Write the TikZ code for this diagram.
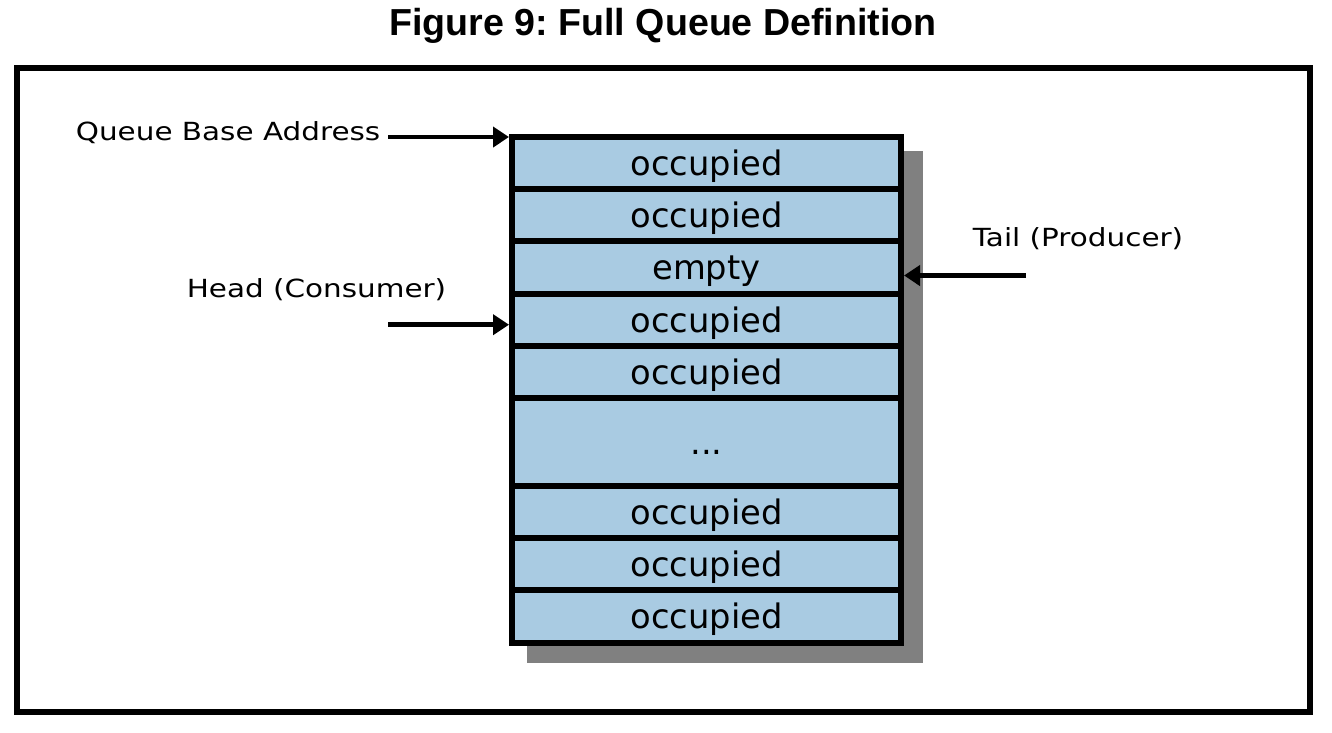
\documentclass[tikz,border=0pt]{standalone}
\usepackage{fontspec}
\usepackage{xcolor}
\usepackage{tikz}
\usetikzlibrary{positioning, arrows.meta}

\newfontfamily\cellfont{DejaVu Sans}
\newfontfamily\labelfont[FakeStretch=1.18]{DejaVu Sans}
\newfontfamily\titlefont{Liberation Sans}
\frenchspacing

\definecolor{slotblue}{RGB}{169,203,226}
\definecolor{shadowgray}{RGB}{128,128,128}

\tikzset{
  slot/.style={draw, line width=1.7pt, fill=slotblue, minimum width=38.9mm, minimum height=5.22mm,
    inner sep=0pt, outer sep=0pt, text height=9.3pt, text depth=2.3pt,
    font=\cellfont\fontsize{9.6}{11}\selectfont},
  ptrlabel/.style={inner sep=0pt, font=\labelfont\fontsize{7.1}{9}\selectfont},
  ptr/.style={-{Triangle[length=1.6mm, width=2mm]}, line width=1.4pt, shorten >=0.3mm}
}

\begin{document}
\begin{tikzpicture}[x=0.1mm, y=-0.1mm]
  \useasboundingbox (0,0) rectangle (1332,732);

  \node (title) [anchor=base, font=\titlefont\bfseries\fontsize{10.7}{12}\selectfont] at (663,35) {Figure 9: Full Queue Definition};

  % frame and drop shadow
  \draw [line width=1.7pt] (17,68) rectangle (1310,712);
  \fill [shadowgray] (527,151) rectangle (923,663);

  % queue slots
  \node (slot1) [slot] at (706.5,163.1) {occupied};
  \node (slot2) [slot, below=0pt of slot1] {occupied};
  \node (slot3) [slot, below=0pt of slot2] {empty};
  \node (slot4) [slot, below=0pt of slot3] {occupied};
  \node (slot5) [slot, below=0pt of slot4] {occupied};
  \node (slot6) [slot, below=0pt of slot5, minimum height=8.8mm] {...};
  \node (slot7) [slot, below=0pt of slot6] {occupied};
  \node (slot8) [slot, below=0pt of slot7] {occupied};
  \node (slot9) [slot, below=0pt of slot8] {occupied};

  % pointers
  \node (qba) [ptrlabel, anchor=base east, inner xsep=0.7mm] at (388,140) {Queue Base Address};
  \node (head) [ptrlabel, anchor=base] at (316.5,297) {Head (Consumer)};
  \node (tail) [ptrlabel, anchor=base] at (1078,246) {Tail (Producer)};
  \coordinate (headend) at ([yshift=-0.5mm]slot4.west);
  \coordinate (tailstart) at (1026,275.5);

  \draw [ptr] (qba.east |- slot1.north west) -- (slot1.north west);
  \draw [ptr] (headend -| qba.east) -- (headend);
  \draw [ptr] (tailstart) -- (tailstart -| slot3.east);
\end{tikzpicture}
\end{document}
